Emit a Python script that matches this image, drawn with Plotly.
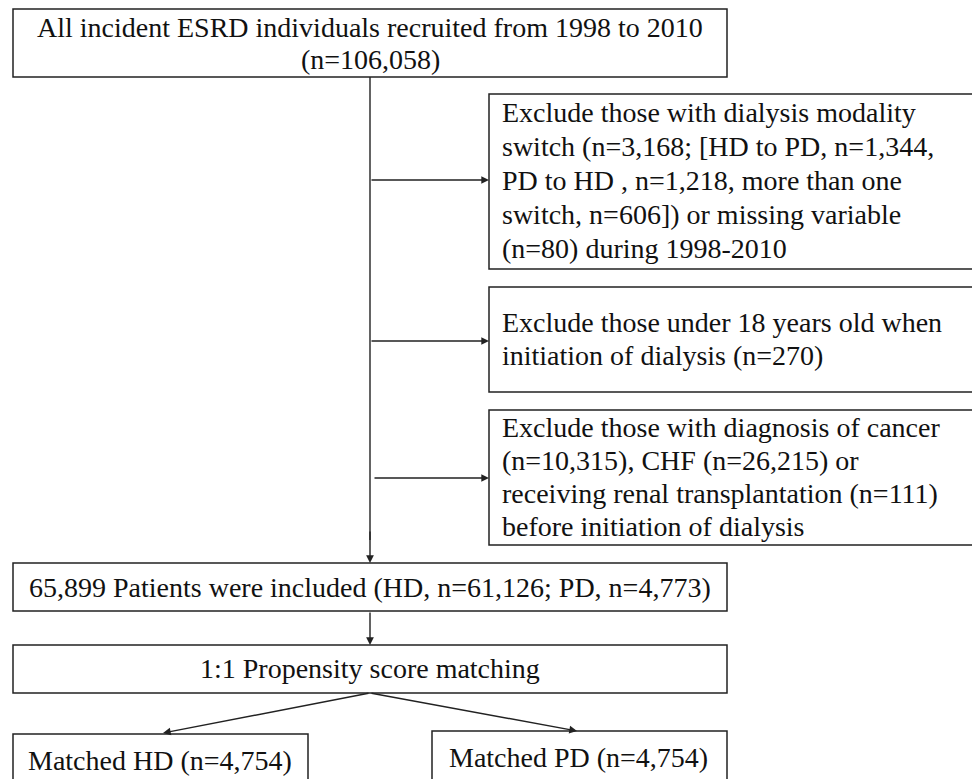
import plotly.graph_objects as go

# ---- data (text content of the flowchart) ----
top_lines = ["All incident ESRD individuals recruited from 1998 to 2010", "(n=106,058)"]
excl1_lines = ["Exclude those with dialysis modality",
               "switch (n=3,168; [HD to PD, n=1,344,",
               "PD to HD , n=1,218, more than one",
               "switch, n=606]) or missing variable",
               "(n=80) during 1998-2010"]
excl2_lines = ["Exclude those under 18 years old when",
               "initiation of dialysis (n=270)"]
excl3_lines = ["Exclude those with diagnosis of cancer",
               "(n=10,315), CHF (n=26,215) or",
               "receiving renal transplantation (n=111)",
               "before initiation of dialysis"]
included_text = "65,899 Patients were included (HD, n=61,126; PD, n=4,773)"
psm_text = "1:1 Propensity score matching"
hd_text = "Matched HD (n=4,754)"
pd_text = "Matched PD (n=4,754)"

FONT = dict(family="Liberation Serif, Times New Roman, serif", size=28, color="#111")
EDGE = "#222"

fig = go.Figure()

def box(x0, y0, x1, y1):
    fig.add_shape(type="rect", x0=x0, y0=y0, x1=x1, y1=y1, xref="x", yref="y",
                  line=dict(color=EDGE, width=1.5), fillcolor="rgba(0,0,0,0)")

def text(x, y, s, anchor="center"):
    fig.add_annotation(x=x, y=y, text=s, showarrow=False, xref="x", yref="y",
                       xanchor=anchor, yanchor="middle", font=FONT)

def arrow(x0, y0, x1, y1):
    fig.add_annotation(x=x1, y=y1, ax=x0, ay=y0, xref="x", yref="y", axref="x", ayref="y",
                       text="", showarrow=True, arrowhead=2, arrowsize=1.1, arrowwidth=1.4,
                       arrowcolor=EDGE, standoff=0, startstandoff=0)

# boxes
box(13, 9, 727, 77)
box(489, 94, 973, 269)
box(489, 287, 973, 392)
box(489, 410, 973, 545)
box(13, 563, 727, 611)
box(13, 645, 727, 693)
box(13, 734, 308, 820)
box(432, 731, 727, 820)

# texts
for s, y in zip(top_lines, [27, 59]):
    text(370, y, s)
for s, y in zip(excl1_lines, [112, 146, 180, 214, 248]):
    text(500, y, s, "left")
for s, y in zip(excl2_lines, [322, 355]):
    text(500, y, s, "left")
for s, y in zip(excl3_lines, [427, 460, 493, 526]):
    text(500, y, s, "left")
text(370, 587, included_text)
text(370, 668, psm_text)
text(160, 760, hd_text)
text(578, 757, pd_text)

# connectors
fig.add_shape(type="line", x0=370, y0=77, x1=370, y1=540, xref="x", yref="y",
              line=dict(color=EDGE, width=1.4))
arrow(370, 530, 370, 563)
arrow(370, 180, 489, 180)
arrow(370, 341, 489, 341)
arrow(373, 478, 489, 478)
arrow(370, 611, 370, 645)
arrow(370, 693, 163, 733)
arrow(370, 693, 577, 731)

# ranges offset by the page's 8px body margin so marks land on reference pixels
fig.update_xaxes(range=[8, 988], visible=False, fixedrange=True)
fig.update_yaxes(range=[787, 8], visible=False, fixedrange=True)
fig.update_layout(width=980, height=779, margin=dict(l=0, r=0, t=0, b=0),
                  plot_bgcolor="white", paper_bgcolor="white", showlegend=False)

fig.write_html("out.html")
